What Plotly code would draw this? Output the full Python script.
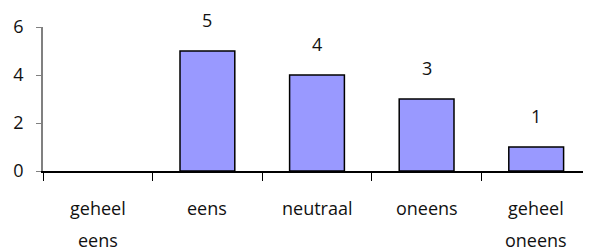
import plotly.graph_objects as go

categories = ["geheel eens", "eens", "neutraal", "oneens", "geheel oneens"]
label_line1 = ["geheel", "eens", "neutraal", "oneens", "geheel"]
label_line2 = ["eens", "", "", "", "oneens"]
values = [0, 5, 4, 3, 1]
y_ticks = [0, 2, 4, 6]

font = dict(family="Open Sans, Noto Sans, sans-serif", size=18, color="#111111")

# the page body adds an 8px margin; compensate so the plot lands where the reference has it
OFF = 8

fig = go.Figure()
fig.add_trace(go.Bar(
    x=categories, y=values,
    marker=dict(color="#9999FF",
                line=dict(color="#000000", width=[0 if v == 0 else 1.5 for v in values])),
    width=0.5,
))

for c, v in zip(categories, values):
    if v > 0:
        fig.add_annotation(x=c, y=v, xref="x", yref="y", text=str(v),
                           showarrow=False, yanchor="middle", yshift=31, font=font)

for c, l1, l2 in zip(categories, label_line1, label_line2):
    fig.add_annotation(x=c, y=0, xref="x", yref="paper", text=l1,
                       showarrow=False, xanchor="center", yanchor="middle",
                       yshift=-37, font=font)
    if l2:
        fig.add_annotation(x=c, y=0, xref="x", yref="paper", text=l2,
                           showarrow=False, xanchor="center", yanchor="middle",
                           yshift=-69, font=font)

fig.update_layout(
    width=591 - OFF, height=251 - OFF,
    margin=dict(l=43 - OFF, r=0, t=27 - OFF, b=79.5),
    paper_bgcolor="white", plot_bgcolor="white",
    showlegend=False, font=font,
)
fig.update_xaxes(
    range=[-0.5, 4.5], showticklabels=False, tickson="boundaries",
    ticks="outside", ticklen=8, tickcolor="#000000",
    showline=True, linecolor="#000000", linewidth=1.5, showgrid=False,
)
fig.update_yaxes(
    range=[0, 6], tickvals=y_ticks, ticks="outside", ticklen=5,
    tickcolor="#808080", showline=True, linecolor="#808080", linewidth=1.5,
    showgrid=False, zeroline=False, tickfont=font, ticklabelstandoff=9,
)
fig.write_html("out.html")
